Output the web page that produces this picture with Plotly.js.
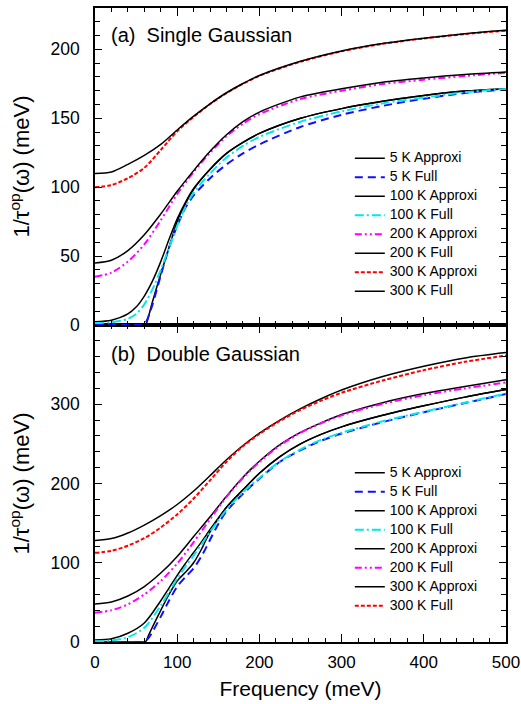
<!DOCTYPE html>
<html>
<head>
<meta charset="utf-8">
<script src="https://cdn.plot.ly/plotly-3.0.1.min.js"></script>
<style>html,body{margin:0;padding:0;background:#fff;}#chart{width:521px;height:704px;}</style>
</head>
<body>
<div id="chart"></div>
<script>
// ---------- Panel (a): Single Gaussian ----------
const xTop = [0,20,40,60,80,100,120,140,160,180,200,250,300,350,400,450,500];
const top200Approxi = [35,38,46,58.5,76,95,111,125,137,146,153,164,170,174.8,178,180.7,183];
const top200Full    = [45,47,54,65.5,80.5,97,112,126,138,147.5,154.5,165.5,171.4,176.2,179.3,181.8,183.6];
const top300Approxi = [100,101.5,106.5,114,127,140.5,151,160.3,168.3,175,180.8,191,198.6,204,207.9,211.1,213.6];
const top300Full    = [110,111,116.5,123,131,141.5,151.5,160.5,168.5,175.2,181,191.3,198.8,204.2,208.1,211.3,213.8];

const xTop5A = [0,20,40,55,60,62,65,70,80,90,100,110,120,140,160,180,200,250,300,350,400,450,500];
const top5Approxi = [0,0,0,0,0,0.5,6,17,37,56,75,88,98.5,113,124.5,132.5,139,150,157,162.3,166.5,169.7,171.5];
const xTop5F = [0,20,40,55,58,62,70,80,90,100,110,120,140,160,180,200,250,300,350,400,450,500];
const top5Full = [0,0,0,0,0,2,15,36,56,72,85,94,106.5,116.5,124.5,131,143.7,152.5,159,164.2,168.3,171];
const xTop100 = [0,20,40,50,60,70,80,90,100,110,120,140,160,180,200,250,300,350,400,450,500];
const top100Approxi = [2.4,3.5,8,13,21,32,46,62,77,89,99,113,124.5,132.5,139,150,157,162.3,166.5,169.7,171.5];
const top100Full    = [1.5,2,4.5,8,15,26,40,56,72,85.5,96,110,121.5,130,136.5,147.5,155,160.8,165,168.8,171.3];

// ---------- Panel (b): Double Gaussian ----------
const xBot = [0,20,40,60,80,100,120,140,160,180,200,225,250,275,300,350,400,450,500];
const bot300Approxi = [128,130.5,137.5,147.5,159.5,173.5,190.5,210,230,248,263.5,280,294.5,307,318,335,348,358.5,365.3];
const bot300Full    = [112.5,115,121.5,131,144.5,161,181,204,227.5,247,262.5,279,293,304.5,314.5,330,343,353.5,361.5];
const bot200Approxi = [48,50.5,58,70,87,108,133,158,184,208,228,249,264.5,276.5,287,302,313.5,322.5,331];
const bot200Full    = [37,40,47.5,60,77,99,126,155,183,207,227,248,264,276,286,300.5,311.5,320,327.5];

const xBot5A = [0,20,40,55,60,62,65,70,80,90,100,110,120,130,140,160,180,200,225,250,275,300,350,400,450,500];
const bot5Approxi = [0,0,0,0,0,1,8,19,40,60,77,88,100,118,139,170,192,213,234,250,262,271.5,286,298,309,318.5];
const xBot5F = [0,20,40,55,58,60,65,70,80,90,100,110,120,130,140,150,160,180,200,225,250,275,300,350,400,450,500];
const bot5Full = [0,0,0,0,0,0.5,5,13,32,52,70,82,93,109,129,149,165,187,206,227.5,242,254,263,277.5,290,301.5,313];
const xBot100 = [0,20,40,60,80,90,100,110,120,130,140,160,180,200,225,250,275,300,350,400,450,500];
const bot100Approxi = [2.5,4,11,24,52,68,84,99,113,127,142,170,192,213,234,250,262,271.5,286,298,309,318.5];
const bot100Full    = [1,2,6,18,46,63,80,95,109,124,139,167,189,207,228,243,255,264,278.5,290.5,302,313.5];

const legendLabels = ['5 K Approxi','5 K Full','100 K Approxi','100 K Full','200 K Approxi','200 K Full','300 K Approxi','300 K Full'];

const FONT = 'Liberation Sans, Arial, sans-serif';
const BLACK = {color:'#000000', width:1.5};
const BLUE = {color:'#1010ff', width:2, dash:'8px,5px'};
const CYAN = {color:'#00e8e8', width:2, dash:'9px,3px,2px,3px'};
const MAG = {color:'#ff00ff', width:2, dash:'7px,3px,2px,3px,2px,3px'};
const RED = {color:'#ff0000', width:2, dash:'4px,2px'};

function lab(s) { return '<span style="font-size:14px">' + s + '</span>'; }

function tr(x, y, name, line, xa, ya, leg) {
  return {x:x, y:y, name:lab(name), type:'scatter', mode:'lines',
          line:Object.assign({shape:'spline', smoothing:0.8}, line),
          xaxis:xa, yaxis:ya, legend:leg};
}

const data = [
  // top panel (a) -> x2/y2, legend2
  tr(xTop5A, top5Approxi, legendLabels[0], BLACK, 'x2','y2','legend2'),
  tr(xTop5F, top5Full, legendLabels[1], BLUE, 'x2','y2','legend2'),
  tr(xTop100, top100Approxi, legendLabels[2], BLACK, 'x2','y2','legend2'),
  tr(xTop100, top100Full, legendLabels[3], CYAN, 'x2','y2','legend2'),
  tr(xTop, top200Approxi, legendLabels[4], MAG, 'x2','y2','legend2'),
  tr(xTop, top200Full, legendLabels[5], BLACK, 'x2','y2','legend2'),
  tr(xTop, top300Approxi, legendLabels[6], RED, 'x2','y2','legend2'),
  tr(xTop, top300Full, legendLabels[7], BLACK, 'x2','y2','legend2'),
  // bottom panel (b) -> x/y, legend
  tr(xBot5A, bot5Approxi, legendLabels[0], BLACK, 'x','y','legend'),
  tr(xBot5F, bot5Full, legendLabels[1], BLUE, 'x','y','legend'),
  tr(xBot100, bot100Approxi, legendLabels[2], BLACK, 'x','y','legend'),
  tr(xBot100, bot100Full, legendLabels[3], CYAN, 'x','y','legend'),
  tr(xBot, bot200Approxi, legendLabels[4], BLACK, 'x','y','legend'),
  tr(xBot, bot200Full, legendLabels[5], MAG, 'x','y','legend'),
  tr(xBot, bot300Approxi, legendLabels[6], BLACK, 'x','y','legend'),
  tr(xBot, bot300Full, legendLabels[7], RED, 'x','y','legend')
];

const xCommon = {
  range:[0,500], showline:true, linewidth:1.6, linecolor:'#000', mirror:'ticks',
  ticks:'inside', ticklen:8, tickwidth:1.4, tickcolor:'#000', dtick:100,
  minor:{ticks:'inside', ticklen:4, tickwidth:1.2, dtick:20, tickcolor:'#000'},
  showgrid:false, zeroline:false, ticklabelstandoff:4,
  tickfont:{family:FONT, size:17, color:'#000'}
};
const yCommon = {
  showline:true, linewidth:1.6, linecolor:'#000', mirror:'ticks',
  ticks:'inside', ticklen:7, tickwidth:1.4, tickcolor:'#000',
  showgrid:false, zeroline:false, ticklabelstandoff:10,
  tickfont:{family:FONT, size:17.5, color:'#000'},
  title:{text:'1/τ<sup>op</sup>(ω) (meV)', font:{family:FONT, size:22, color:'#000'}, standoff:15}
};
// extra overlay axes that only draw the outward part of the left major ticks
const yOut = {
  side:'left', showline:false, showgrid:false, zeroline:false,
  ticks:'outside', ticklen:8, tickwidth:1.4, tickcolor:'#000', showticklabels:false
};

const layout = {
  width:521, height:704,
  margin:{l:95, r:15, t:8, b:62},
  paper_bgcolor:'#fff', plot_bgcolor:'#fff',
  font:{family:FONT, color:'#000'},
  xaxis:Object.assign({}, xCommon, {anchor:'y', domain:[0,1],
     title:{text:'Frequency (meV)', font:{family:FONT, size:21, color:'#000'}, standoff:10}}),
  xaxis2:Object.assign({}, xCommon, {anchor:'y2', matches:'x', showticklabels:false}),
  yaxis:Object.assign({}, yCommon, {domain:[0,0.5], range:[0,400], anchor:'x',
     tickvals:[0,100,200,300], minor:{ticks:'inside', ticklen:5, tickwidth:1.2, dtick:20, tickcolor:'#000'}}),
  yaxis2:Object.assign({}, yCommon, {domain:[0.5,1], range:[0,230], anchor:'x2',
     tickvals:[0,50,100,150,200], minor:{ticks:'inside', ticklen:5, tickwidth:1.2, dtick:10, tickcolor:'#000'}}),
  yaxis3:Object.assign({}, yOut, {overlaying:'y', anchor:'x', range:[0,400], tickvals:[0,100,200,300]}),
  yaxis4:Object.assign({}, yOut, {overlaying:'y2', anchor:'x2', range:[0,230], tickvals:[0,50,100,150,200]}),
  legend2:{x:0.62, y:0.786, xanchor:'left', yanchor:'top', bgcolor:'rgba(0,0,0,0)',
     font:{family:FONT, size:11, color:'#000'}, tracegroupgap:0},
  legend:{x:0.62, y:0.29, xanchor:'left', yanchor:'top', bgcolor:'rgba(0,0,0,0)',
     font:{family:FONT, size:11, color:'#000'}, tracegroupgap:0},
  showlegend:true,
  annotations:[
    {xref:'paper', yref:'paper', x:0.035, y:0.957, xanchor:'left', yanchor:'middle',
     text:'(a)\u00a0\u00a0Single Gaussian', showarrow:false, font:{family:FONT, size:20, color:'#000'}},
    {xref:'paper', yref:'paper', x:0.035, y:0.454, xanchor:'left', yanchor:'middle',
     text:'(b)\u00a0\u00a0Double Gaussian', showarrow:false, font:{family:FONT, size:20, color:'#000'}}
  ]
};

Plotly.newPlot('chart', data, layout, {displayModeBar:false, responsive:false});
</script>
</body>
</html>
